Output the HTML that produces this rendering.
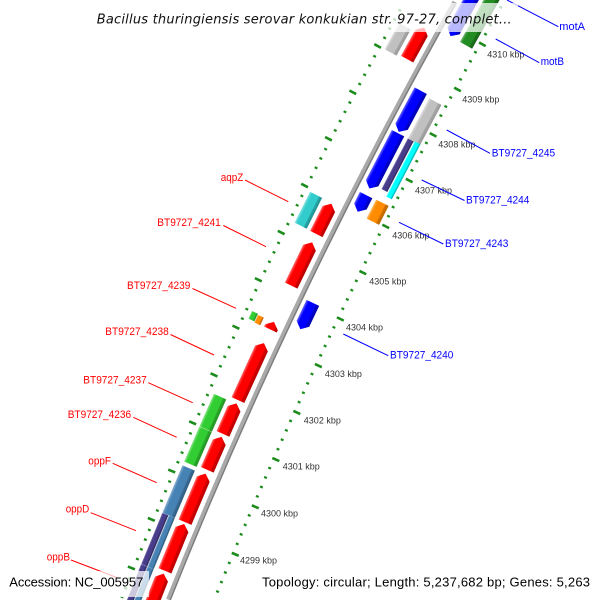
<!DOCTYPE html>
<html><head><meta charset="utf-8"><style>
html,body{margin:0;padding:0;background:#fff;width:600px;height:600px;overflow:hidden;}
#wrap{width:600px;height:600px;overflow:hidden;position:relative;}
svg{display:block;overflow:hidden;}
</style></head><body>
<div id="wrap">
<svg width="600" height="600" viewBox="0 0 600 600" xmlns="http://www.w3.org/2000/svg">
<defs>
<linearGradient id="gRed" x1="1" y1="0" x2="0" y2="0"><stop offset="0" stop-color="#ff6a6a"/><stop offset="0.2" stop-color="#ff0000"/><stop offset="0.74" stop-color="#ff0000"/><stop offset="0.76" stop-color="#d40000"/><stop offset="1" stop-color="#b80000"/></linearGradient>
<linearGradient id="gBlue" x1="1" y1="0" x2="0" y2="0"><stop offset="0" stop-color="#6a6aff"/><stop offset="0.2" stop-color="#0000ff"/><stop offset="0.74" stop-color="#0000ff"/><stop offset="0.76" stop-color="#0000d0"/><stop offset="1" stop-color="#0000b0"/></linearGradient>
<linearGradient id="gTurq" x1="1" y1="0" x2="0" y2="0"><stop offset="0" stop-color="#8ae3e3"/><stop offset="0.2" stop-color="#33cccc"/><stop offset="0.74" stop-color="#33cccc"/><stop offset="0.76" stop-color="#26a8a8"/><stop offset="1" stop-color="#1e9090"/></linearGradient>
<linearGradient id="gCyan" x1="1" y1="0" x2="0" y2="0"><stop offset="0" stop-color="#8affff"/><stop offset="0.2" stop-color="#00ffff"/><stop offset="0.74" stop-color="#00ffff"/><stop offset="0.76" stop-color="#00d4d4"/><stop offset="1" stop-color="#00b8b8"/></linearGradient>
<linearGradient id="gPurple" x1="1" y1="0" x2="0" y2="0"><stop offset="0" stop-color="#8178b3"/><stop offset="0.2" stop-color="#483d8b"/><stop offset="0.74" stop-color="#483d8b"/><stop offset="0.76" stop-color="#3b3272"/><stop offset="1" stop-color="#322a62"/></linearGradient>
<linearGradient id="gSteel" x1="1" y1="0" x2="0" y2="0"><stop offset="0" stop-color="#8cb2d3"/><stop offset="0.2" stop-color="#4682b4"/><stop offset="0.74" stop-color="#4682b4"/><stop offset="0.76" stop-color="#3a6c96"/><stop offset="1" stop-color="#315c80"/></linearGradient>
<linearGradient id="gLime" x1="1" y1="0" x2="0" y2="0"><stop offset="0" stop-color="#85e385"/><stop offset="0.2" stop-color="#32cd32"/><stop offset="0.74" stop-color="#32cd32"/><stop offset="0.76" stop-color="#29aa29"/><stop offset="1" stop-color="#239223"/></linearGradient>
<linearGradient id="gForest" x1="1" y1="0" x2="0" y2="0"><stop offset="0" stop-color="#74b574"/><stop offset="0.2" stop-color="#228b22"/><stop offset="0.74" stop-color="#228b22"/><stop offset="0.76" stop-color="#1c731c"/><stop offset="1" stop-color="#186218"/></linearGradient>
<linearGradient id="gSilver" x1="1" y1="0" x2="0" y2="0"><stop offset="0" stop-color="#e2e2e2"/><stop offset="0.2" stop-color="#c0c0c0"/><stop offset="0.74" stop-color="#c0c0c0"/><stop offset="0.76" stop-color="#a6a6a6"/><stop offset="1" stop-color="#999999"/></linearGradient>
<linearGradient id="gOrange" x1="1" y1="0" x2="0" y2="0"><stop offset="0" stop-color="#ffb85e"/><stop offset="0.2" stop-color="#ff8c00"/><stop offset="0.74" stop-color="#ff8c00"/><stop offset="0.76" stop-color="#d47400"/><stop offset="1" stop-color="#b86500"/></linearGradient>
</defs>
<rect x="0" y="0" width="600" height="600" fill="#ffffff"/>

<g transform="translate(4810.9 2456.5)">
  <!-- backbone -->
  <g transform="rotate(201.8)" fill="none">
    <path d="M5000.8 0 A5000.8 5000.8 0 0 1 4956.87 661.39" stroke="#a9a9a9" stroke-width="3.4"/>
    <path d="M4998.3 0 A4998.3 4998.3 0 0 1 4954.39 661.06" stroke="#7d7d7d" stroke-width="1.6"/>
  </g>

  <!-- right tick ring (inner) -->
  <g transform="rotate(201.99588)" fill="none" stroke="#1c8c1c">
    <path d="M4957.5 0 A4957.5 4957.5 0 0 1 4913.33 660.31" stroke-width="3" stroke-dasharray="2.2 8.1138" stroke-dashoffset="2.647"/>
    <path d="M4955.25 0 A4955.25 4955.25 0 0 1 4911.10 660.01" stroke-width="7.5" stroke-dasharray="2.6 48.9449" stroke-dashoffset="2.847"/>
  </g>
  <!-- left tick ring (outer) -->
  <g transform="rotate(201.6204)" fill="none" stroke="#1c8c1c">
    <path d="M5044 0 A5044 5044 0 0 1 5001.08 656.61" stroke-width="3" stroke-dasharray="2.2 8.2937" stroke-dashoffset="1.1"/>
    <path d="M5046.25 0 A5046.25 5046.25 0 0 1 5003.31 656.90" stroke-width="7.5" stroke-dasharray="2.6 49.8924" stroke-dashoffset="22.297"/>
  </g>

  <!-- left inner (red, forward) -->
  <g fill="url(#gRed)">
    <polygon transform="rotate(208.769)" points="5007,-18 5021,-18 5021,12 5014,18 5007,12"/>
    <polygon transform="rotate(206.505)" points="5007,-16.95 5021,-16.95 5021,10.95 5014,16.95 5007,10.95"/>
    <polygon transform="rotate(205.930)" points="5007,-24 5021,-24 5021,18 5014,24 5007,18"/>
    <polygon transform="rotate(205.149)" points="5007,-4.25 5021,-4.25 5021,-1.75 5014,4.25 5007,-1.75"/>
    <polygon transform="rotate(204.571)" points="5007,-31.3 5021,-31.3 5021,25.3 5014,31.3 5007,25.3"/>
    <polygon transform="rotate(203.981)" points="5007,-16.7 5021,-16.7 5021,10.7 5014,16.7 5007,10.7"/>
    <polygon transform="rotate(203.548)" points="5007,-18 5021,-18 5021,12 5014,18 5007,12"/>
    <polygon transform="rotate(202.994)" points="5007,-26.35 5021,-26.35 5021,20.35 5014,26.35 5007,20.35"/>
    <polygon transform="rotate(202.380)" points="5007,-25.3 5021,-25.3 5021,19.3 5014,25.3 5007,19.3"/>
    <polygon transform="rotate(201.570)" points="5007,16.91 5021,11.38 5021,36.5 5014,42.5 5007,36.5"/>
  </g>

  <!-- right inner (blue, reverse) -->
  <g fill="url(#gBlue)">
    <polygon transform="rotate(209.380)" points="4980,30.1 4994,30.1 4994,-24.1 4987,-30.1 4980,-24.1"/>
    <polygon transform="rotate(208.051)" points="4980,23.35 4994,23.35 4994,-17.35 4987,-23.35 4980,-17.35"/>
    <polygon transform="rotate(207.408)" points="4980,31.15 4994,31.15 4994,-25.15 4987,-31.15 4980,-25.15"/>
    <polygon transform="rotate(206.859)" points="4980,9.35 4994,9.35 4994,-3.35 4987,-9.35 4980,-3.35"/>
    <polygon transform="rotate(205.417)" points="4980,14.55 4994,14.55 4994,-8.55 4987,-14.55 4980,-8.55"/>
  </g>

  <!-- right outer -->
  <rect transform="rotate(209.377)" x="4962" y="-30.25" width="14" height="60.5" fill="url(#gForest)"/>
  <rect transform="rotate(208.021)" x="4962" y="-23.25" width="14" height="46.5" fill="url(#gSilver)"/>
  <rect transform="rotate(207.437)" x="4969.5" y="-28.45" width="6.5" height="56.9" fill="url(#gPurple)"/>
  <rect transform="rotate(207.414)" x="4962" y="-31" width="6.5" height="62" fill="url(#gCyan)"/>
  <rect transform="rotate(206.850)" x="4962" y="-10.6" width="14" height="21.2" fill="url(#gOrange)"/>

  <!-- left outer -->
  <rect transform="rotate(208.710)" x="5025" y="-14.9" width="13.5" height="29.8" fill="url(#gSilver)"/>
  <rect transform="rotate(206.514)" x="5025" y="-17.25" width="13.5" height="34.5" fill="url(#gTurq)"/>
  <rect transform="rotate(205.155)" x="5032" y="-4.2" width="6.5" height="8.4" fill="url(#gLime)"/>
  <rect transform="rotate(205.143)" x="5025" y="-4.2" width="6.5" height="8.4" fill="url(#gOrange)"/>
  <rect transform="rotate(203.963)" x="5025" y="-17.6" width="13.5" height="35.4" fill="url(#gLime)"/>
  <rect transform="rotate(203.543)" x="5025" y="-19.1" width="13.5" height="38.0" fill="url(#gLime)"/>
  <rect transform="rotate(202.985)" x="5025" y="-25.65" width="13.5" height="51.3" fill="url(#gSteel)"/>
  <rect transform="rotate(202.377)" x="5032" y="-27.75" width="6.5" height="55.3" fill="url(#gPurple)"/>
  <rect transform="rotate(202.377)" x="5025" y="-27.75" width="6.5" height="55.3" fill="url(#gSteel)"/>
  <polygon transform="rotate(201.573)" points="5032,6.77 5038.5,4.2 5038.5,42.7 5032,42.7" fill="url(#gPurple)"/>
  <polygon transform="rotate(201.573)" points="5025,9.55 5031.5,6.98 5031.5,42.7 5025,42.7" fill="url(#gSteel)"/>
</g>

<!-- tick labels -->
<g font-family="Liberation Sans, Arial, sans-serif" font-size="9" fill="#333333">
  <text x="487.3" y="57.3">4310 kbp</text>
  <text x="462.3" y="102.3">4309 kbp</text>
  <text x="438.3" y="147.3">4308 kbp</text>
  <text x="415" y="193.3">4307 kbp</text>
  <text x="392.3" y="238.3">4306 kbp</text>
  <text x="369.3" y="284.3">4305 kbp</text>
  <text x="346" y="330.7">4304 kbp</text>
  <text x="324.9" y="377">4303 kbp</text>
  <text x="303.8" y="423.3">4302 kbp</text>
  <text x="282.7" y="469.5">4301 kbp</text>
  <text x="261" y="516.7">4300 kbp</text>
  <text x="240" y="563.3">4299 kbp</text>
</g>

<!-- label lines -->
<g stroke="#ff0000" stroke-width="1" fill="none">
  <line x1="245" y1="180" x2="288.3" y2="201.7"/>
  <line x1="223.3" y1="225.5" x2="266" y2="246.7"/>
  <line x1="192.5" y1="288.5" x2="236" y2="308.3"/>
  <line x1="170.5" y1="334.5" x2="214" y2="355"/>
  <line x1="148.3" y1="382.7" x2="192.7" y2="402.7"/>
  <line x1="133.3" y1="417.3" x2="176.7" y2="437.3"/>
  <line x1="112.7" y1="463.3" x2="156.7" y2="482.7"/>
  <line x1="90.7" y1="512.7" x2="136" y2="530.7"/>
  <line x1="71" y1="560" x2="118" y2="578"/>
</g>
<g stroke="#0000ff" stroke-width="1" fill="none">
  <line x1="507" y1="0" x2="558.3" y2="26.7"/>
  <line x1="495.7" y1="39" x2="539.3" y2="62.7"/>
  <line x1="446.7" y1="130" x2="490" y2="153.3"/>
  <line x1="421.7" y1="180" x2="464.5" y2="200.5"/>
  <line x1="399" y1="222.3" x2="443.3" y2="244"/>
  <line x1="343.3" y1="334" x2="388.3" y2="355.7"/>
</g>

<!-- labels -->
<g font-family="Liberation Sans, Arial, sans-serif" font-size="11" fill="#ff0000">
  <text x="220.7" y="181" textLength="22.6" lengthAdjust="spacingAndGlyphs">aqpZ</text>
  <text x="157.3" y="226" textLength="63.4" lengthAdjust="spacingAndGlyphs">BT9727_4241</text>
  <text x="127" y="289" textLength="63.4" lengthAdjust="spacingAndGlyphs">BT9727_4239</text>
  <text x="105.3" y="335" textLength="63.4" lengthAdjust="spacingAndGlyphs">BT9727_4238</text>
  <text x="83.3" y="383.3" textLength="63.4" lengthAdjust="spacingAndGlyphs">BT9727_4237</text>
  <text x="67.7" y="418" textLength="63.4" lengthAdjust="spacingAndGlyphs">BT9727_4236</text>
  <text x="88.3" y="464.3" textLength="22.7" lengthAdjust="spacingAndGlyphs">oppF</text>
  <text x="65.7" y="512.3" textLength="23.6" lengthAdjust="spacingAndGlyphs">oppD</text>
  <text x="46.7" y="560.7" textLength="23.3" lengthAdjust="spacingAndGlyphs">oppB</text>
</g>
<g font-family="Liberation Sans, Arial, sans-serif" font-size="11" fill="#0000ff">
  <text x="559.3" y="30" textLength="25.7" lengthAdjust="spacingAndGlyphs">motA</text>
  <text x="540.7" y="65" textLength="23.3" lengthAdjust="spacingAndGlyphs">motB</text>
  <text x="491.7" y="156.7" textLength="63.4" lengthAdjust="spacingAndGlyphs">BT9727_4245</text>
  <text x="466" y="203.5" textLength="63.4" lengthAdjust="spacingAndGlyphs">BT9727_4244</text>
  <text x="445" y="247" textLength="63.4" lengthAdjust="spacingAndGlyphs">BT9727_4243</text>
  <text x="390" y="358.3" textLength="63.4" lengthAdjust="spacingAndGlyphs">BT9727_4240</text>
</g>

<!-- title box -->
<rect x="88" y="3" width="430" height="29" fill="#ffffff" fill-opacity="0.72"/>
<text x="96.7" y="23.3" font-family="DejaVu Sans, Liberation Sans, sans-serif" font-style="italic" font-size="13" fill="#111111" textLength="415" lengthAdjust="spacing">Bacillus thuringiensis serovar konkukian str. 97-27, complet...</text>

<!-- bottom boxes -->
<rect x="3" y="571" width="146" height="26" fill="#ffffff" fill-opacity="0.72"/>
<text x="9.3" y="586.7" font-family="Liberation Sans, Arial, sans-serif" font-size="13" fill="#000000" textLength="134" lengthAdjust="spacing">Accession: NC_005957</text>
<rect x="256" y="571" width="340" height="26" fill="#ffffff" fill-opacity="0.72"/>
<text x="262" y="586.7" font-family="Liberation Sans, Arial, sans-serif" font-size="13" fill="#000000" textLength="328" lengthAdjust="spacing">Topology: circular; Length: 5,237,682 bp; Genes: 5,263</text>
</svg>
</div>
</body></html>
